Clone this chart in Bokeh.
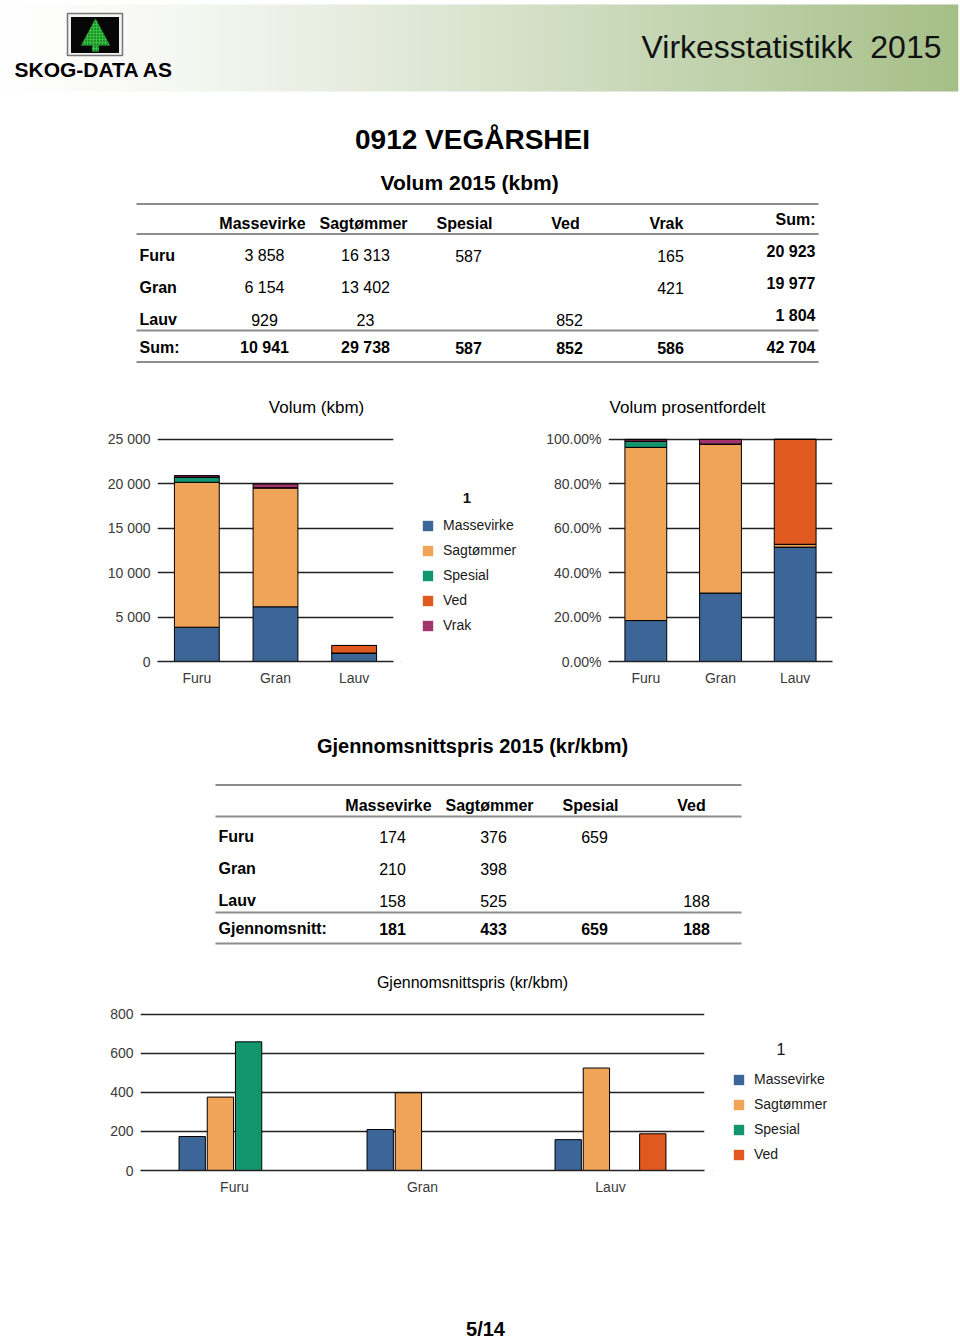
import numpy as np
from bokeh.plotting import figure
from bokeh.layouts import column, row
from bokeh.models import (Range1d, FactorRange, ColumnDataSource, Legend, LegendItem,
                          FixedTicker)
from bokeh.transform import dodge
from bokeh.core.properties import value
from bokeh.embed import file_html
from bokeh.resources import INLINE

# ---------------- data ----------------
species = ["Furu", "Gran", "Lauv"]
assortments = ["Massevirke", "Sagtømmer", "Spesial", "Ved", "Vrak"]
vol_massevirke = [3858, 6154, 929]
vol_sagtommer = [16313, 13402, 23]
vol_spesial = [587, None, None]
vol_ved = [None, None, 852]
vol_vrak = [165, 421, None]

price_assortments = ["Massevirke", "Sagtømmer", "Spesial", "Ved"]
price_massevirke = [174, 210, 158]
price_sagtommer = [376, 398, 525]
price_spesial = [659, None, None]
price_ved = [None, None, 188]
price_average = [181, 433, 659, 188]

vol_ticks = [0, 5000, 10000, 15000, 20000, 25000]
vol_tick_labels = ["0", "5 000", "10 000", "15 000", "20 000", "25 000"]
pct_ticks = [0, 20, 40, 60, 80, 100]
pct_tick_labels = ["0.00%", "20.00%", "40.00%", "60.00%", "80.00%", "100.00%"]
price_ticks = [0, 200, 400, 600, 800]
price_tick_labels = ["0", "200", "400", "600", "800"]

colors = ["#3d6698", "#f0a458", "#13956e", "#e05a20", "#a2346b"]

FONT = "Liberation Sans"
GRID = "#222222"
TICKTXT = "#3a3a3a"
RULE = "#8c8c8c"
NBSP = "\u00a0"

vol = [vol_massevirke, vol_sagtommer, vol_spesial, vol_ved, vol_vrak]
price = [price_massevirke, price_sagtommer, price_spesial, price_ved]


def fmt(v):
    return f"{v:,}".replace(",", " ")


def blank_fig(width, height, x_range, y_range):
    p = figure(width=width, height=height, x_range=x_range, y_range=y_range,
               output_backend="svg", toolbar_location=None, min_border=0,
               x_axis_location=None, y_axis_location=None)
    p.grid.visible = False
    p.outline_line_color = None
    return p


def page_fig(y0, y1):
    return blank_fig(960, y1 - y0, Range1d(0, 960), Range1d(y1, y0))


def add_texts(p, items, size, bold=False, align="center", color="#000000", font=FONT):
    if not items:
        return
    xs, ys, ts = zip(*items)
    p.text(x=list(xs), y=list(ys), text=list(ts), text_font=value(font),
           text_font_size=f"{size}px", text_font_style="bold" if bold else "normal",
           text_align=align, text_baseline="middle", text_color=color)


def rules(p, x0, x1, ys):
    p.segment(x0=[x0] * len(ys), x1=[x1] * len(ys), y0=ys, y1=ys,
              line_color=RULE, line_width=2)


# ---------------- page part A: header, title, table 1, chart titles ----------------
pA = page_fig(0, 430)

# header gradient band
stops = np.array([0.0, 0.15, 0.35, 0.6, 1.0])
rgb = np.array([[255, 255, 255], [248, 249, 246], [232, 238, 225], [207, 221, 193], [166, 191, 136]])
n = 160
edges = np.linspace(3, 957, n + 1)
mid = (np.arange(n) + 0.5) / n
cols = ["#%02x%02x%02x" % tuple(int(np.interp(m, stops, rgb[:, k])) for k in range(3)) for m in mid]
pA.quad(left=edges[:-1], right=edges[1:] + 0.8, top=4, bottom=91, fill_color=cols, line_color=None)

# logo
pA.quad(left=67, right=122, top=13, bottom=55, fill_color="#f2f2f2", line_color="#777777", line_width=1.5)
pA.quad(left=70.5, right=118.5, top=16.5, bottom=52.5, fill_color="#060606", line_color=None)
pA.patch(x=[95, 80.5, 109.5], y=[18, 45, 45], fill_color="#33c23f", line_color=None,
         hatch_pattern="dot", hatch_color="#0a3a0e", hatch_scale=3)
pA.quad(left=91.5, right=98.5, top=45, bottom=51, fill_color="#33c23f", line_color=None,
        hatch_pattern="dot", hatch_color="#0a3a0e", hatch_scale=3)
add_texts(pA, [(14, 68.5, "SKOG-DATA AS")], 21, bold=True, align="left")
add_texts(pA, [(941, 46, "Virkesstatistikk" + NBSP + " 2015")], 32, align="right", color="#111111")

# titles
add_texts(pA, [(472, 139, "0912 VEGÅRSHEI")], 28, bold=True)
add_texts(pA, [(472, 182, "Volum 2015  (kbm)")], 21, bold=True)

# table 1
t1_head_x = [262, 363, 464, 565, 666]
t1_val_x = [264, 365, 468, 569, 670]
t1_rows_y = [255, 287, 319]
t1_sum_x = 815
rules(pA, 136, 818, [203.5, 233.5, 330, 361.5])
add_texts(pA, [(x, 223, a) for x, a in zip(t1_head_x, assortments)], 16, bold=True)
add_texts(pA, [(t1_sum_x, 219, "Sum:")], 16, bold=True, align="right")
add_texts(pA, [(139, y, s) for y, s in zip(t1_rows_y, species)] + [(139, 347, "Sum:")],
          16, bold=True, align="left")
cells = []
for j, col in enumerate(vol):
    for i, v in enumerate(col):
        if v is not None:
            cells.append((t1_val_x[j], t1_rows_y[i], fmt(v)))
add_texts(pA, cells, 16)
row_sums = [sum(c[i] or 0 for c in vol) for i in range(len(species))]
col_sums = [sum(v or 0 for v in c) for c in vol]
add_texts(pA, [(t1_sum_x, y - 4, fmt(s)) for y, s in zip(t1_rows_y, row_sums)]
          + [(t1_sum_x, 347, fmt(sum(row_sums)))], 16, bold=True, align="right")
add_texts(pA, [(x, 347, fmt(s)) for x, s in zip(t1_val_x, col_sums)], 16, bold=True)

# chart titles
add_texts(pA, [(316, 407, "Volum (kbm)"), (687, 407, "Volum prosentfordelt")], 17)


# ---------------- charts ----------------
def style_axes(p, ticks, labels):
    p.yaxis.ticker = FixedTicker(ticks=ticks)
    p.yaxis.major_label_overrides = {t: l for t, l in zip(ticks, labels)}
    p.yaxis.axis_line_color = None
    p.yaxis.major_tick_line_color = None
    p.yaxis.minor_tick_line_color = None
    p.yaxis.major_tick_out = 0
    p.yaxis.major_label_standoff = 7
    p.xaxis.axis_line_color = GRID
    p.xaxis.axis_line_width = 1.5
    p.xaxis.major_tick_line_color = None
    p.xaxis.major_tick_out = 0
    p.xaxis.major_label_standoff = 8
    p.axis.major_label_text_font = FONT
    p.axis.major_label_text_font_size = "14px"
    p.axis.major_label_text_color = TICKTXT
    p.xgrid.grid_line_color = None
    p.ygrid.grid_line_color = GRID
    p.ygrid.grid_line_width = 1.4
    p.outline_line_color = None


def legend_fig(width, height, names, cols_, loc, title_size, title_style, standoff):
    """A frame-only figure holding the legend beside a chart (swatches sit outside its range)."""
    pl = blank_fig(width, height, Range1d(0, 1), Range1d(0, 1))
    rends = [pl.vbar(x=[-5], top=[-5], bottom=[-6], width=0.5, fill_color=c,
                     line_color=None) for c in cols_]
    leg = Legend(items=[LegendItem(label=n_, renderers=[r]) for n_, r in zip(names, rends)],
                 location=loc, border_line_color=None, background_fill_alpha=0, padding=0,
                 margin=0, spacing=9, glyph_width=13, glyph_height=13, label_height=13,
                 label_standoff=9, label_text_font=FONT, label_text_font_size="14px",
                 label_text_color="#1a1a1a",
                 title=NBSP * 10 + "1", title_text_font=FONT,
                 title_text_font_size=f"{title_size}px", title_text_font_style=title_style,
                 title_text_color="#111111", title_standoff=standoff)
    pl.add_layout(leg, "center")
    return pl


src1 = ColumnDataSource({"species": species,
                         **{a: [v or 0 for v in c] for a, c in zip(assortments, vol)}})
p1 = figure(width=400, height=265, x_range=FactorRange(factors=species), y_range=Range1d(0, 26000),
            output_backend="svg", toolbar_location=None,
            min_border_left=157, min_border_right=7, min_border_top=0, min_border_bottom=34)
p1.vbar_stack(assortments, x="species", width=0.57, fill_color=colors,
              line_color="black", line_width=1, source=src1)
style_axes(p1, vol_ticks, vol_tick_labels)
pL1 = legend_fig(140, 265, assortments, colors, (21, 28), 15, "bold", 11)

totals = row_sums
src2 = ColumnDataSource({"species": species,
                         **{a: [(v or 0) / t * 100 for v, t in zip(c, totals)]
                            for a, c in zip(assortments, vol)}})
p2 = figure(width=420, height=265, x_range=FactorRange(factors=species), y_range=Range1d(0, 104),
            output_backend="svg", toolbar_location=None,
            min_border_left=68, min_border_right=128, min_border_top=0, min_border_bottom=34)
p2.vbar_stack(assortments, x="species", width=0.56, fill_color=colors,
              line_color="black", line_width=1, source=src2)
style_axes(p2, pct_ticks, pct_tick_labels)

# ---------------- page part C: section title, table 2, chart 3 title ----------------
pC = page_fig(695, 1000)
add_texts(pC, [(472, 745, "Gjennomsnittspris 2015 (kr/kbm)")], 20, bold=True)
t2_head_x = [388, 489, 590, 691]
t2_val_x = [392, 493, 594, 696]
t2_rows_y = [836, 868, 900]
rules(pC, 215, 741, [784.5, 816, 912, 943])
add_texts(pC, [(x, 805, a) for x, a in zip(t2_head_x, price_assortments)], 16, bold=True)
add_texts(pC, [(218, y, s) for y, s in zip(t2_rows_y, species)] + [(218, 928, "Gjennomsnitt:")],
          16, bold=True, align="left")
cells = []
for j, col in enumerate(price):
    for i, v in enumerate(col):
        if v is not None:
            cells.append((t2_val_x[j], t2_rows_y[i], fmt(v)))
add_texts(pC, cells, 16)
add_texts(pC, [(x, 928, fmt(v)) for x, v in zip(t2_val_x, price_average)], 16, bold=True)
add_texts(pC, [(472, 982, "Gjennomsnittspris (kr/kbm)")], 16)

# ---------------- chart 3 ----------------
src3 = ColumnDataSource({"species": species,
                         **{a: [np.nan if v is None else v for v in c]
                            for a, c in zip(price_assortments, price)}})
p3 = figure(width=712, height=200, x_range=FactorRange(factors=species), y_range=Range1d(0, 840),
            output_backend="svg", toolbar_location=None,
            min_border_left=140, min_border_right=8, min_border_top=6, min_border_bottom=30)
offsets = [-0.225, -0.075, 0.075, 0.225]
for a, off, c in zip(price_assortments, offsets, colors):
    p3.vbar(x=dodge("species", off, range=p3.x_range), top=a, width=0.14,
            source=src3, fill_color=c, line_color="black", line_width=1)
style_axes(p3, price_ticks, price_tick_labels)
pL3 = legend_fig(248, 200, price_assortments, colors[:4], (20, 8), 16, "normal", 12)

# ---------------- footer ----------------
pE = page_fig(1200, 1338)
add_texts(pE, [(485, 1328, "5/14")], 20, bold=True)

layout = column(row(pA), row(p1, pL1, p2), row(pC), row(p3, pL3), row(pE))
open("out.html", "w").write(file_html(layout, INLINE))
